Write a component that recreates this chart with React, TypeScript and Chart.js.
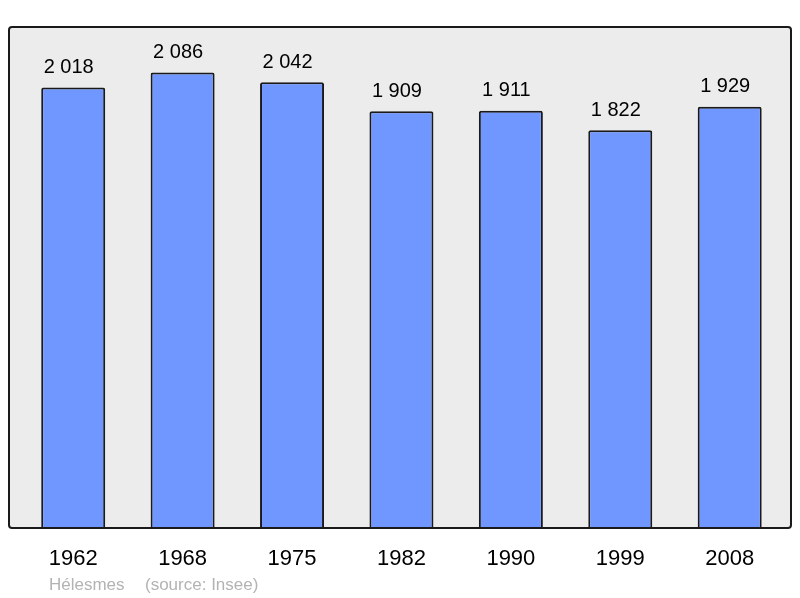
import React, { useEffect, useRef } from "react";
import { Chart, registerables } from "chart.js";

Chart.register(...registerables);

const years = ["1962", "1968", "1975", "1982", "1990", "1999", "2008"];
const population = [2018, 2086, 2042, 1909, 1911, 1822, 1929];
const valueLabels = ["2 018", "2 086", "2 042", "1 909", "1 911", "1 822", "1 929"];
const commune = "Hélesmes";
const sourceText = "(source: Insee)";

const FONT = "'Liberation Sans', Arial, sans-serif";

function roundRect(ctx: CanvasRenderingContext2D, x: number, y: number, w: number, h: number, r: number) {
  ctx.beginPath();
  ctx.moveTo(x + r, y);
  ctx.lineTo(x + w - r, y);
  ctx.quadraticCurveTo(x + w, y, x + w, y + r);
  ctx.lineTo(x + w, y + h - r);
  ctx.quadraticCurveTo(x + w, y + h, x + w - r, y + h);
  ctx.lineTo(x + r, y + h);
  ctx.quadraticCurveTo(x, y + h, x, y + h - r);
  ctx.lineTo(x, y + r);
  ctx.quadraticCurveTo(x, y, x + r, y);
  ctx.closePath();
}

const frame = { left: 9, top: 27, right: 791, bottom: 528 };

const decorPlugin = {
  id: "decor",
  beforeDatasetsDraw(chart: any) {
    const ctx = chart.ctx as CanvasRenderingContext2D;
    ctx.save();
    roundRect(ctx, frame.left, frame.top, frame.right - frame.left, frame.bottom - frame.top, 3);
    ctx.fillStyle = "#ececec";
    ctx.fill();
    ctx.restore();
  },
  afterDatasetsDraw(chart: any) {
    const ctx = chart.ctx as CanvasRenderingContext2D;
    const xScale = chart.scales.x;
    const yScale = chart.scales.y;
    ctx.save();
    roundRect(ctx, frame.left, frame.top, frame.right - frame.left, frame.bottom - frame.top, 3);
    ctx.strokeStyle = "#1a1a1a";
    ctx.lineWidth = 2;
    ctx.stroke();

    ctx.fillStyle = "#000";
    ctx.textAlign = "center";
    ctx.textBaseline = "alphabetic";
    ctx.font = `20px ${FONT}`;
    population.forEach((v, i) => {
      const x = xScale.getPixelForValue(i);
      const y = yScale.getPixelForValue(v);
      ctx.fillText(valueLabels[i], x - 4.5, y - 14.5);
    });

    ctx.font = `22px ${FONT}`;
    years.forEach((yr, i) => {
      const x = xScale.getPixelForValue(i);
      ctx.fillText(yr, x, 564.5);
    });

    ctx.textAlign = "left";
    ctx.fillStyle = "#b3b3b3";
    ctx.font = `17px ${FONT}`;
    ctx.fillText(commune, 49, 590);
    ctx.fillText(sourceText, 145, 590);
    ctx.restore();
  },
};

export default function App() {
  const ref = useRef<HTMLCanvasElement | null>(null);

  useEffect(() => {
    document.body.style.margin = "0";
    if (!ref.current) return;
    const chart = new Chart(ref.current, {
      type: "bar",
      data: {
        labels: years,
        datasets: [
          {
            data: population,
            backgroundColor: "#7096ff",
            borderColor: "#1a1a1a",
            borderWidth: 2,
            borderRadius: { topLeft: 2, topRight: 2, bottomLeft: 0, bottomRight: 0 },
            borderSkipped: "start",
            barPercentage: 0.585,
            categoryPercentage: 1,
          },
        ],
      },
      options: {
        responsive: false,
        animation: false,
        layout: { padding: { left: 18.5, right: 15.6, top: 47.7, bottom: 70 } },
        plugins: { legend: { display: false }, tooltip: { enabled: false } },
        scales: {
          x: { display: false },
          y: { display: false, min: 0, max: 2200 },
        },
      },
      plugins: [decorPlugin],
    });
    return () => chart.destroy();
  }, []);

  return (
    <div style={{ position: "absolute", left: 0, top: 0, width: 800, height: 598, background: "#fff" }}>
      <canvas ref={ref} width={800} height={598} style={{ width: 800, height: 598 }} />
    </div>
  );
}
